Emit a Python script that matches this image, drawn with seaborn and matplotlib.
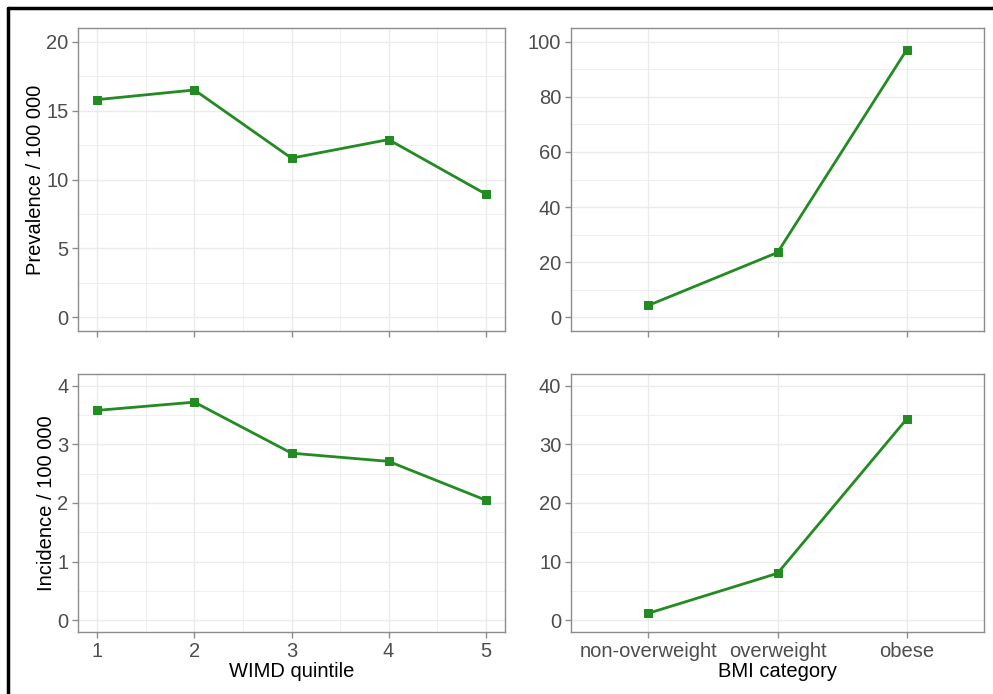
import matplotlib
matplotlib.use("Agg")
import matplotlib.pyplot as plt
import matplotlib.ticker as mtick
from matplotlib.lines import Line2D
import seaborn as sns
import pandas as pd

wimd_quintile = [1, 2, 3, 4, 5]
wimd_prevalence = [15.8, 16.5, 11.55, 12.9, 8.95]
wimd_incidence = [3.58, 3.72, 2.85, 2.71, 2.05]

bmi_category = ["non-overweight", "overweight", "obese"]
bmi_prevalence = [4.3, 23.5, 97.0]
bmi_incidence = [1.2, 8.0, 34.3]

GREEN = "#228B22"
GRID = "#EBEBEB"
BORDER = "#8C8C8C"
TICKTXT = "#4D4D4D"

sns.set_style("white")
plt.rcParams["font.family"] = ["Liberation Sans", "DejaVu Sans"]

fig = plt.figure(figsize=(9.93, 6.94), dpi=100)

W, H = 993, 694


def box(l, t, r, b):
    return [l / W, (H - b) / H, (r - l) / W, (b - t) / H]


ax_tl = fig.add_axes(box(78, 28, 505, 331))
ax_tr = fig.add_axes(box(571, 28, 984, 331))
ax_bl = fig.add_axes(box(78, 374, 505, 632))
ax_br = fig.add_axes(box(571, 374, 984, 632))


def style(ax, ylim, yticks, yminor, xminor=None):
    ax.set_ylim(*ylim)
    ax.set_yticks(yticks)
    ax.yaxis.set_minor_locator(mtick.FixedLocator(yminor))
    if xminor is not None:
        ax.xaxis.set_minor_locator(mtick.FixedLocator(xminor))
    ax.grid(True, which="major", color=GRID, linewidth=1.0, zorder=0)
    ax.grid(True, which="minor", color=GRID, linewidth=0.55, zorder=0)
    ax.set_axisbelow(True)
    for sp in ax.spines.values():
        sp.set_color(BORDER)
        sp.set_linewidth(1.0)
    ax.tick_params(which="major", direction="out", length=4, width=1.0,
                   color=BORDER, labelsize=14.5, labelcolor=TICKTXT,
                   left=True, bottom=True, pad=3)
    ax.tick_params(which="minor", length=0)


df_w = pd.DataFrame({"x": wimd_quintile, "prev": wimd_prevalence, "inc": wimd_incidence})
df_b = pd.DataFrame({"x": bmi_category, "prev": bmi_prevalence, "inc": bmi_incidence})

line_kw = dict(color=GREEN, linewidth=2.0, marker="s", markersize=6,
               markeredgecolor=GREEN, zorder=3)

sns.lineplot(data=df_w, x="x", y="prev", ax=ax_tl, **line_kw)
sns.lineplot(data=df_w, x="x", y="inc", ax=ax_bl, **line_kw)
sns.lineplot(data=df_b, x="x", y="prev", ax=ax_tr, sort=False, **line_kw)
sns.lineplot(data=df_b, x="x", y="inc", ax=ax_br, sort=False, **line_kw)

for ax in (ax_tl, ax_bl):
    ax.set_xlim(0.8, 5.2)
    ax.set_xticks(wimd_quintile)
for ax in (ax_tr, ax_br):
    ax.set_xlim(-0.6, 2.6)
    ax.set_xticks(range(len(bmi_category)))
    ax.set_xticklabels(bmi_category)

style(ax_tl, (-1, 21), [0, 5, 10, 15, 20], [2.5, 7.5, 12.5, 17.5], [1.5, 2.5, 3.5, 4.5])
style(ax_bl, (-0.2, 4.2), [0, 1, 2, 3, 4], [0.5, 1.5, 2.5, 3.5], [1.5, 2.5, 3.5, 4.5])
style(ax_tr, (-5, 105), [0, 20, 40, 60, 80, 100], [10, 30, 50, 70, 90])
style(ax_br, (-2, 42), [0, 10, 20, 30, 40], [5, 15, 25, 35])

for ax in (ax_tl, ax_tr):
    ax.tick_params(labelbottom=False)

for ax in (ax_tl, ax_tr, ax_bl, ax_br):
    ax.set_xlabel("")
    ax.set_ylabel("")

ax_tl.set_ylabel("Prevalence / 100 000", fontsize=14.5, color="black", labelpad=1)
ax_bl.set_ylabel("Incidence / 100 000", fontsize=14.5, color="black", labelpad=1)
ax_bl.set_xlabel("WIMD quintile", fontsize=14.5, color="black", labelpad=1)
ax_br.set_xlabel("BMI category", fontsize=14.5, color="black", labelpad=1)

# outer frame (top and left edges visible in the reference)
fig.add_artist(Line2D([8 / W, 1.01], [1 - 8 / H, 1 - 8 / H], transform=fig.transFigure,
                      color="black", linewidth=2.5))
fig.add_artist(Line2D([8 / W, 8 / W], [1 - 8 / H, -0.01], transform=fig.transFigure,
                      color="black", linewidth=2.5))

fig.savefig("out.png", dpi=100)
